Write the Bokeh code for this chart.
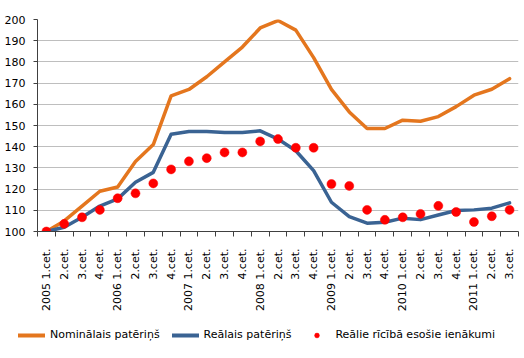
import math
from bokeh.plotting import figure
from bokeh.layouts import column
from bokeh.models import (Range1d, FixedTicker, Legend, LegendItem, ColumnDataSource)
from bokeh.embed import file_html
from bokeh.resources import INLINE

# Quarter labels, 2005 Q1 .. 2011 Q3
quarters = [
    "2005 1.cet.", "2.cet.", "3.cet.", "4.cet.",
    "2006 1.cet.", "2.cet.", "3.cet.", "4.cet.",
    "2007 1.cet.", "2.cet.", "3.cet.", "4.cet.",
    "2008 1.cet.", "2.cet.", "3.cet.", "4.cet.",
    "2009 1.cet.", "2.cet.", "3.cet.", "4.cet.",
    "2010 1.cet.", "2.cet.", "3.cet.", "4.cet.",
    "2011 1.cet.", "2.cet.", "3.cet.",
]

# Indices, 2005 Q1 = 100
nominal_consumption = [
    100, 105, 112, 119, 121, 133, 141, 164, 167, 173, 180, 187, 196,
    199.5, 195, 182, 167, 156.4, 148.6, 148.6, 152.5, 152, 154.2, 158.9,
    164.3, 167.1, 172.1,
]
real_consumption = [
    100, 102, 106.7, 112, 115.4, 123.2, 127.9, 145.9, 147.2, 147.2, 146.7,
    146.7, 147.5, 143.6, 138.1, 128.7, 113.8, 107, 103.9, 104.4, 106.3,
    105.6, 107.8, 109.9, 110.2, 111, 113.5,
]
real_disposable_income = [
    100, 103.6, 106.7, 110.2, 115.7, 118, 122.7, 129.3, 133.1, 134.6, 137.3,
    137.3, 142.5, 143.6, 139.5, 139.5, 122.4, 121.5, 110.2, 105.5, 106.7,
    108.3, 112.1, 109.2, 104.5, 107.2, 110.2,
]

series_names = ["Nominālais patēriņš", "Reālais patēriņš",
                "Reālie rīcībā esošie ienākumi"]

y_ticks = list(range(100, 201, 10))

FONT = "DejaVu Sans"
ORANGE = "#E4761E"
BLUE = "#3A6393"
RED = "#FF0000"
AXIS = "#404040"

idx = list(range(len(quarters)))
src = ColumnDataSource(dict(
    x=idx,
    nom=nominal_consumption,
    real=real_consumption,
    inc=real_disposable_income,
))


def draw_series(fig, line_width):
    """Draw the three series on fig and return their renderers."""
    r1 = fig.line("x", "nom", source=src, line_color=ORANGE, line_width=line_width,
                  line_join="round", line_cap="round")
    r2 = fig.line("x", "real", source=src, line_color=BLUE, line_width=line_width,
                  line_join="round", line_cap="round")
    r3 = fig.scatter("x", "inc", source=src, size=9, fill_color=RED,
                     line_color=RED, line_width=0.5)
    return r1, r2, r3


# ---- main chart ----
p = figure(
    width=524, height=315,
    x_range=Range1d(-0.5, len(quarters) - 0.5),
    y_range=Range1d(100, 200),
    output_backend="svg", toolbar_location=None,
    min_border_left=37, min_border_right=6,
    min_border_top=19, min_border_bottom=84,
)
p.frame_align = False
p.outline_line_color = None
p.background_fill_color = "white"
p.border_fill_color = "white"

p.yaxis.ticker = FixedTicker(ticks=y_ticks)
p.yaxis.major_tick_in = 0
p.yaxis.major_tick_out = 4
p.yaxis.minor_tick_line_color = None
p.yaxis.axis_line_color = AXIS
p.yaxis.major_tick_line_color = AXIS
p.yaxis.major_label_standoff = 8
p.yaxis.major_label_text_font = FONT
p.yaxis.major_label_text_font_size = "11px"
p.yaxis.major_label_text_color = "#000000"

# labels at quarter centres, tick marks on the boundaries between quarters
p.xaxis.ticker = FixedTicker(ticks=idx,
                             minor_ticks=[i - 0.5 for i in range(len(quarters) + 1)])
p.xaxis.major_label_overrides = {i: q for i, q in enumerate(quarters)}
p.xaxis.major_label_orientation = math.pi / 2
p.xaxis.major_tick_line_color = None
p.xaxis.major_tick_in = 0
p.xaxis.major_tick_out = 0
p.xaxis.minor_tick_in = 0
p.xaxis.minor_tick_out = 5
p.xaxis.minor_tick_line_color = AXIS
p.xaxis.axis_line_color = AXIS
p.xaxis.major_label_standoff = 12
p.xaxis.major_label_text_font = FONT
p.xaxis.major_label_text_font_size = "11px"
p.xaxis.major_label_text_color = "#000000"

p.xgrid.grid_line_color = None
p.ygrid.ticker = FixedTicker(ticks=y_ticks)
p.ygrid.grid_line_color = "#BEBEBE"
p.ygrid.grid_line_width = 1

draw_series(p, 3.5)

# ---- legend strip below the chart (series lie outside its view) ----
lg = figure(
    width=524, height=43,
    x_range=Range1d(0, 1), y_range=Range1d(0, 1),
    x_axis_type=None, y_axis_type=None,
    output_backend="svg", toolbar_location=None,
    min_border=0,
)
lg.frame_align = False
lg.outline_line_color = None
lg.grid.visible = False
k_nom, k_real, k_inc = draw_series(lg, 4)

legend = Legend(
    items=[
        LegendItem(label=series_names[0], renderers=[k_nom]),
        LegendItem(label=series_names[1], renderers=[k_real]),
        LegendItem(label=series_names[2], renderers=[k_inc]),
    ],
    orientation="horizontal",
    location=(18, 17),
    border_line_color=None,
    background_fill_alpha=0,
    label_text_font=FONT,
    label_text_font_size="11px",
    label_text_color="#000000",
    glyph_width=27, glyph_height=12,
    label_standoff=5, spacing=12,
    padding=0, margin=0,
)
lg.add_layout(legend, "center")

open("out.html", "w").write(file_html(column(p, lg, spacing=0), INLINE))
